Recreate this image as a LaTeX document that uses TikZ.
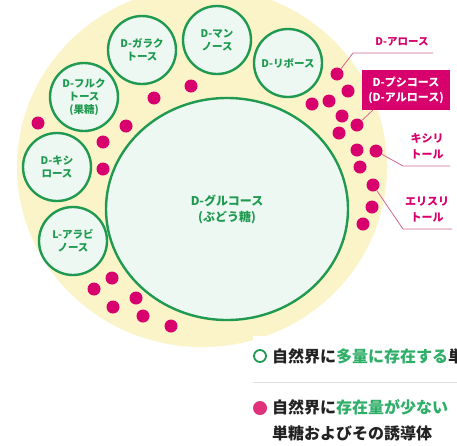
\documentclass[tikz,border=0pt]{standalone}
\usepackage{fontspec}
\setmainfont{Noto Sans CJK JP}
\usepackage{tikz}
\usetikzlibrary{shapes.geometric}
\definecolor{sugargreen}{HTML}{1F9A50}
\definecolor{keygreen}{HTML}{2FAE68}
\definecolor{mintfill}{HTML}{EEF8F3}
\definecolor{paleyellow}{HTML}{FBF4C8}
\definecolor{rarepink}{HTML}{D8006C}
\definecolor{keypink}{HTML}{E0327A}
\definecolor{leadpink}{HTML}{D0678F}
\definecolor{inkblack}{HTML}{222222}
\tikzset{
	mono/.style={circle, draw=sugargreen, line width=2.4pt, fill=mintfill, minimum size=68pt, inner sep=0pt, align=center, text=sugargreen, font=\bfseries\fontsize{10.5}{13}\selectfont},
	raredot/.style={circle, fill=rarepink, minimum size=13pt, inner sep=0pt},
	leader/.style={leadpink, line width=0.8pt},
	rarelabel/.style={align=center, text=rarepink, font=\bfseries\fontsize{10.5}{16}\selectfont}
}

\begin{document}
\begin{tikzpicture}[x=1pt,y=-1pt]
			\clip (0,0) rectangle (457,445);
			\fill [white] (0,0) rectangle (457,445);
			\fill [paleyellow] (202,167) ellipse [x radius=185, y radius=180];
			\node [ellipse, draw=sugargreen, line width=2.4pt, fill=mintfill, minimum width=242pt, minimum height=222pt, align=center, text=sugargreen, font=\bfseries\fontsize{12}{16}\selectfont] (glucose) at (227,209) {D-グルコース\\(ぶどう糖)};
			\node [mono] (galactose) at (142,50) {D-ガラク\\トース};
			\node [mono] (mannose) at (217,40) {D-マン\\ノース};
			\node [mono] (ribose) at (288,63) {D-リボース};
			\node [mono] (fructose) at (84,97) {D-フルク\\トース\\(果糖)};
			\node [mono] (xylose) at (57,167) {D-キシ\\ロース};
			\node [mono] (arabinose) at (73,241) {L-アラビ\\ノース};
			\foreach \p [count=\i] in {(38,123), (154,98), (191,86), (126,126), (103,142), (103,169), (337,74), (348,91), (312,104), (329,101), (342,116), (357,125), (339,133), (357,150), (376,151), (360,167), (373,185), (372,207), (363,224), (112,278), (94,289), (136,298), (113,307), (143,316), (171,326)}
				\node [raredot] (dot\i) at \p {};
			\node [rarelabel] (allose) at (402,42) {D-アロース};
			\coordinate (alloseknee) at (353,53);
			\coordinate (alloseend) at (433,53);
			\draw [leader] (dot7) -- (alloseknee) -- (alloseend);
			\node [rectangle, fill=rarepink, minimum width=88pt, minimum height=40pt, align=center, text=white, font=\bfseries\fontsize{11}{15}\selectfont] (psicose) at (406,90) {D-プシコース\\(D-アルロース)};
			\draw [leader] (dot12) -- ([xshift=11pt]psicose.south west);
			\node [rarelabel, font=\bfseries\fontsize{11}{16}\selectfont] (xylitol) at (427,146) {キシリ\\トール};
			\coordinate (xylitolknee) at (403,166);
			\coordinate (xylitolend) at (450,166);
			\draw [leader] (dot15) -- (xylitolknee) -- (xylitolend);
			\node [rarelabel, font=\bfseries\fontsize{11}{16}\selectfont] (erythritol) at (427,210) {エリスリ\\トール};
			\coordinate (erythritolknee) at (403,229);
			\coordinate (erythritolend) at (452,229);
			\draw [leader] (dot17) -- (erythritolknee) -- (erythritolend);
			\fill [white] (253,336) rectangle (457,445);
			\draw [gray!25, line width=0.7pt] (253,382) -- (457,382);
			\node [circle, draw=sugargreen, line width=1.8pt, fill=white, minimum size=12pt, inner sep=0pt] (keyopen) at (260,356) {};
			\node [anchor=west, inner sep=0pt, text=inkblack, font=\bfseries\fontsize{16}{20}\selectfont] (keyopentext) at (272,356) {自然界に\textcolor{keygreen}{多量に存在する}単糖};
			\node [circle, fill=keypink, minimum size=14pt, inner sep=0pt] (keyfull) at (260,408) {};
			\node [anchor=north west, inner sep=0pt, align=left, text=inkblack, font=\bfseries\fontsize{16}{26}\selectfont] (keyfulltext) at (272,399) {自然界に\textcolor{keygreen}{存在量が少ない}\\単糖およびその誘導体};
\end{tikzpicture}
\end{document}
